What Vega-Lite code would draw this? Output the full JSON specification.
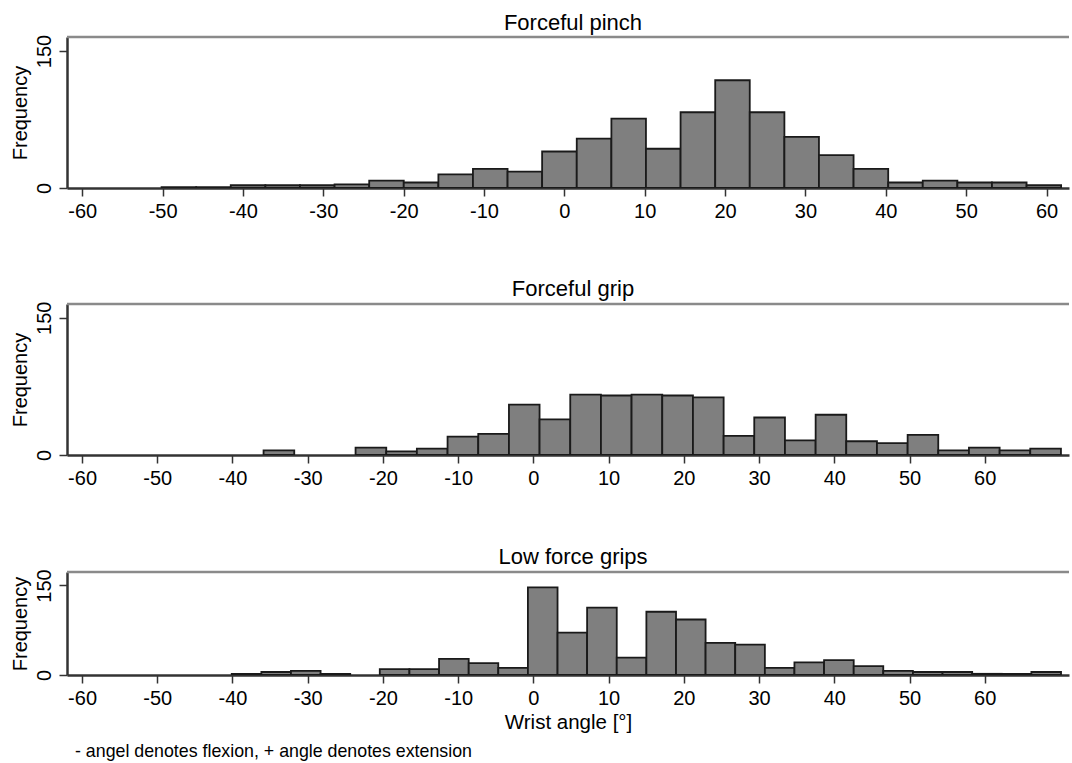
{
  "$schema": "https://vega.github.io/schema/vega-lite/v6.json",
  "padding": {"left": 10, "top": 12, "right": 0, "bottom": 2},
  "config": {
    "font": "Liberation Sans",
    "view": {"stroke": null},
    "title": {"fontWeight": "normal", "color": "#000000", "fontSize": 22, "frame": "group", "anchor": "middle"},
    "axis": {
      "grid": false,
      "domainColor": "#333333",
      "domainWidth": 2.5,
      "tickColor": "#333333",
      "tickWidth": 1.5,
      "tickSize": 8,
      "labelColor": "#000000",
      "labelFontSize": 20,
      "titleColor": "#000000",
      "titleFontSize": 20,
      "titleFontWeight": "normal",
      "labelFlush": false,
      "labelOverlap": false
    },
    "concat": {"spacing": 57}
  },
  "datasets": {
    "pinch": [
      {"lo": -50.13, "hi": -45.82, "n": 1},
      {"lo": -45.82, "hi": -41.52, "n": 1},
      {"lo": -41.52, "hi": -37.21, "n": 3},
      {"lo": -37.21, "hi": -32.91, "n": 3},
      {"lo": -32.91, "hi": -28.60, "n": 3},
      {"lo": -28.60, "hi": -24.29, "n": 4},
      {"lo": -24.29, "hi": -19.99, "n": 8},
      {"lo": -19.99, "hi": -15.68, "n": 6},
      {"lo": -15.68, "hi": -11.38, "n": 15},
      {"lo": -11.38, "hi": -7.07, "n": 21},
      {"lo": -7.07, "hi": -2.77, "n": 18},
      {"lo": -2.77, "hi": 1.54, "n": 40},
      {"lo": 1.54, "hi": 5.85, "n": 54},
      {"lo": 5.85, "hi": 10.15, "n": 76},
      {"lo": 10.15, "hi": 14.46, "n": 43},
      {"lo": 14.46, "hi": 18.77, "n": 83},
      {"lo": 18.77, "hi": 23.07, "n": 118},
      {"lo": 23.07, "hi": 27.38, "n": 83},
      {"lo": 27.38, "hi": 31.68, "n": 56},
      {"lo": 31.68, "hi": 35.99, "n": 36},
      {"lo": 35.99, "hi": 40.30, "n": 21},
      {"lo": 40.30, "hi": 44.60, "n": 6},
      {"lo": 44.60, "hi": 48.91, "n": 8},
      {"lo": 48.91, "hi": 53.21, "n": 6},
      {"lo": 53.21, "hi": 57.52, "n": 6},
      {"lo": 57.52, "hi": 61.82, "n": 3}
    ],
    "grip": [
      {"lo": -35.87, "hi": -31.79, "n": 5},
      {"lo": -23.64, "hi": -19.56, "n": 8},
      {"lo": -19.56, "hi": -15.49, "n": 4},
      {"lo": -15.49, "hi": -11.41, "n": 7},
      {"lo": -11.41, "hi": -7.33, "n": 20},
      {"lo": -7.33, "hi": -3.25, "n": 23},
      {"lo": -3.25, "hi": 0.82, "n": 55},
      {"lo": 0.82, "hi": 4.90, "n": 39},
      {"lo": 4.90, "hi": 8.98, "n": 66},
      {"lo": 8.98, "hi": 13.05, "n": 65},
      {"lo": 13.05, "hi": 17.13, "n": 66},
      {"lo": 17.13, "hi": 21.21, "n": 65},
      {"lo": 21.21, "hi": 25.29, "n": 63},
      {"lo": 25.29, "hi": 29.36, "n": 21},
      {"lo": 29.36, "hi": 33.44, "n": 41},
      {"lo": 33.44, "hi": 37.52, "n": 16},
      {"lo": 37.52, "hi": 41.59, "n": 44},
      {"lo": 41.59, "hi": 45.67, "n": 15},
      {"lo": 45.67, "hi": 49.75, "n": 13},
      {"lo": 49.75, "hi": 53.82, "n": 22},
      {"lo": 53.82, "hi": 57.90, "n": 5},
      {"lo": 57.90, "hi": 61.98, "n": 8},
      {"lo": 61.98, "hi": 66.05, "n": 5},
      {"lo": 66.05, "hi": 70.13, "n": 7}
    ],
    "low": [
      {"lo": -40.10, "hi": -36.16, "n": 2},
      {"lo": -36.16, "hi": -32.23, "n": 5},
      {"lo": -32.23, "hi": -28.29, "n": 7},
      {"lo": -28.29, "hi": -24.35, "n": 2},
      {"lo": -20.42, "hi": -16.48, "n": 10},
      {"lo": -16.48, "hi": -12.54, "n": 10},
      {"lo": -12.54, "hi": -8.60, "n": 27},
      {"lo": -8.60, "hi": -4.67, "n": 20},
      {"lo": -4.67, "hi": -0.73, "n": 12},
      {"lo": -0.73, "hi": 3.21, "n": 147},
      {"lo": 3.21, "hi": 7.14, "n": 71},
      {"lo": 7.14, "hi": 11.08, "n": 113},
      {"lo": 11.08, "hi": 15.02, "n": 29},
      {"lo": 15.02, "hi": 18.96, "n": 106},
      {"lo": 18.96, "hi": 22.89, "n": 93},
      {"lo": 22.89, "hi": 26.83, "n": 54},
      {"lo": 26.83, "hi": 30.77, "n": 51},
      {"lo": 30.77, "hi": 34.70, "n": 12},
      {"lo": 34.70, "hi": 38.64, "n": 21},
      {"lo": 38.64, "hi": 42.58, "n": 25},
      {"lo": 42.58, "hi": 46.51, "n": 15},
      {"lo": 46.51, "hi": 50.45, "n": 7},
      {"lo": 50.45, "hi": 54.39, "n": 5},
      {"lo": 54.39, "hi": 58.33, "n": 5},
      {"lo": 58.33, "hi": 62.26, "n": 2},
      {"lo": 62.26, "hi": 66.20, "n": 2},
      {"lo": 66.20, "hi": 70.14, "n": 5}
    ]
  },
  "title": {
    "text": "- angel denotes flexion, + angle denotes extension",
    "orient": "bottom",
    "anchor": "start",
    "frame": "bounds",
    "fontSize": 17.8,
    "dx": 65,
    "offset": 10
  },
  "vconcat": [
    {
      "title": {"text": "Forceful pinch", "dx": 5, "offset": -1},
      "width": 1002,
      "height": 151,
      "layer": [
        {
          "data": {"name": "pinch"},
          "mark": {"type": "bar", "fill": "#7f7f7f", "stroke": "#1a1a1a", "strokeWidth": 1.8, "clip": true},
          "encoding": {
            "x": {"field": "lo", "type": "quantitative", "title": null,
                  "scale": {"domain": [-61.9, 62.8], "nice": false, "zero": false},
                  "axis": {"values": [-60, -50, -40, -30, -20, -10, 0, 10, 20, 30, 40, 50, 60], "labelPadding": 5, "labelExpr": "'' + datum.value"}},
            "x2": {"field": "hi"},
            "y": {"field": "n", "type": "quantitative", "title": "Frequency",
                  "scale": {"domain": [0, 165.4], "nice": false},
                  "axis": {"values": [0, 150], "labelAngle": 270, "labelPadding": 5, "titlePadding": 4}},
            "y2": {"datum": 0}
          }
        },
        {
          "data": {"values": [{}]},
          "mark": {"type": "rule", "color": "#8a8a8a", "strokeWidth": 2.5},
          "encoding": {"y": {"datum": 165.4, "type": "quantitative"}}
        }
      ]
    },
    {
      "title": {"text": "Forceful grip", "dx": 5, "offset": 0},
      "width": 1002,
      "height": 151,
      "layer": [
        {
          "data": {"name": "grip"},
          "mark": {"type": "bar", "fill": "#7f7f7f", "stroke": "#1a1a1a", "strokeWidth": 1.8, "clip": true},
          "encoding": {
            "x": {"field": "lo", "type": "quantitative", "title": null,
                  "scale": {"domain": [-62, 71.2], "nice": false, "zero": false},
                  "axis": {"values": [-60, -50, -40, -30, -20, -10, 0, 10, 20, 30, 40, 50, 60], "labelPadding": 5, "labelExpr": "'' + datum.value"}},
            "x2": {"field": "hi"},
            "y": {"field": "n", "type": "quantitative", "title": "Frequency",
                  "scale": {"domain": [0, 165], "nice": false},
                  "axis": {"values": [0, 150], "labelAngle": 270, "labelPadding": 5, "titlePadding": 4}},
            "y2": {"datum": 0}
          }
        },
        {
          "data": {"values": [{}]},
          "mark": {"type": "rule", "color": "#8a8a8a", "strokeWidth": 2.5},
          "encoding": {"y": {"datum": 165, "type": "quantitative"}}
        }
      ]
    },
    {
      "title": {"text": "Low force grips", "dx": 5, "offset": 0},
      "width": 1002,
      "height": 103,
      "layer": [
        {
          "data": {"name": "low"},
          "mark": {"type": "bar", "fill": "#7f7f7f", "stroke": "#1a1a1a", "strokeWidth": 1.8, "clip": true},
          "encoding": {
            "x": {"field": "lo", "type": "quantitative", "title": "Wrist angle [°]",
                  "scale": {"domain": [-62, 71.2], "nice": false, "zero": false},
                  "axis": {"values": [-60, -50, -40, -30, -20, -10, 0, 10, 20, 30, 40, 50, 60], "labelPadding": 5, "titlePadding": 4, "titleFontSize": 20.5, "labelExpr": "'' + datum.value"}},
            "x2": {"field": "hi"},
            "y": {"field": "n", "type": "quantitative", "title": "Frequency",
                  "scale": {"domain": [0, 172.6], "nice": false},
                  "axis": {"values": [0, 150], "labelAngle": 270, "labelPadding": 5, "titlePadding": 4}},
            "y2": {"datum": 0}
          }
        },
        {
          "data": {"values": [{}]},
          "mark": {"type": "rule", "color": "#8a8a8a", "strokeWidth": 2.5},
          "encoding": {"y": {"datum": 172.6, "type": "quantitative"}}
        }
      ]
    }
  ]
}
